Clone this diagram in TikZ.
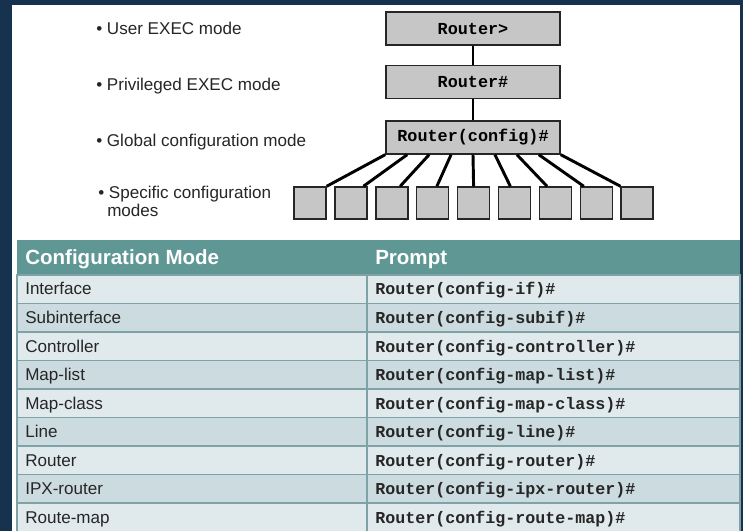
\documentclass[tikz,border=0pt]{standalone}
\usepackage{fontspec}
\setmainfont{Liberation Sans}
\setmonofont{Liberation Mono}
\usetikzlibrary{positioning}
\usetikzlibrary{calc}

\definecolor{framebg}{HTML}{17324F}
\definecolor{boxgray}{HTML}{C6C6C6}
\definecolor{headteal}{HTML}{5F9795}
\definecolor{rowlight}{HTML}{E0E9EC}
\definecolor{rowdark}{HTML}{CCDBE0}
\definecolor{gridline}{HTML}{7FA2A6}

\tikzset{
  modebox/.style={draw=black!85, line width=1.1pt, fill=boxgray, minimum width=130.5pt,
    minimum height=24.75pt, inner sep=0pt, font=\ttfamily\bfseries\fontsize{12.6}{14}\selectfont},
  subbox/.style={draw=black!85, line width=1.1pt, fill=boxgray, minimum size=24pt, inner sep=0pt},
  link/.style={line width=2.2pt},
  modetext/.style={anchor=base west, inner sep=0pt, text=black!85, font=\fontsize{12.8}{13.5}\selectfont},
  headtext/.style={anchor=base west, inner sep=0pt, text=white, font=\bfseries\fontsize{15.4}{17}\selectfont},
  celltext/.style={anchor=base west, inner sep=0pt, text=black!85, font=\fontsize{12.8}{15}\selectfont},
  prompttext/.style={anchor=base west, inner sep=0pt, text=black!85, font=\ttfamily\bfseries\fontsize{12.5}{15}\selectfont},
  cell/.style={draw=gridline, line width=1.1pt}
}

\begin{document}
\begin{tikzpicture}[x=0.75pt, y=-0.75pt]
  \useasboundingbox (0,0) rectangle (743,531);
  % frame
  \fill[framebg] (0,0) rectangle (743,531);
  \fill[white] (12,5) rectangle (740,531);

  % mode hierarchy
  \node[modebox] (user) at (473,28.5) {Router>};
  \node[modebox, below=14.25pt of user] (priv) {Router\#};
  \node[modebox, below=15.75pt of priv] (cfg) {Router(config)\#};
  \draw[link] (user) -- (priv);
  \draw[link] (priv) -- (cfg);

  \foreach \i in {0,...,8}
    {\node[subbox] (s\i) at ({310+40.9*\i},203) {};}
  \foreach \i in {0,...,8}
    {\draw[link] ($(cfg.south west)!\i/8!(cfg.south east)$) -- ($(s\i.north east)!\i/8!(s\i.north west)$);}

  % mode names
  \node[modetext] (tuser) at (96,35) {\textbullet\ User EXEC mode};
  \node[modetext] (tpriv) at (96,91) {\textbullet\ Privileged EXEC mode};
  \node[modetext] (tglob) at (96,147) {\textbullet\ Global configuration mode};
  \node[modetext] (tspec) at (98,199) {\textbullet\ Specific configuration};
  \node[modetext] (tspec2) at (107,217) {modes};

  % table
  \fill[headteal] (17,240) rectangle (740,275);
  \node[headtext] (hmode) at (25,265) {Configuration Mode};
  \node[headtext] (hprompt) at (375,265) {Prompt};

  \foreach \mode/\prompt [count=\r] in {Interface/config-if, Subinterface/config-subif,
      Controller/config-controller, Map-list/config-map-list, Map-class/config-map-class,
      Line/config-line, Router/config-router, IPX-router/config-ipx-router, Route-map/config-route-map}
    {\ifodd\r \def\rowfill{rowlight}\else \def\rowfill{rowdark}\fi
     \pgfmathsetmacro{\ytop}{275+28.5*(\r-1)}
     \draw[cell, fill=\rowfill] (17,\ytop) rectangle (367,\ytop+28.5);
     \draw[cell, fill=\rowfill] (367,\ytop) rectangle (740,\ytop+28.5);
     \node[celltext] (m\r) at (25,\ytop+20) {\mode};
     \node[prompttext] (p\r) at (375,\ytop+20) {Router(\prompt)\#};}
\end{tikzpicture}
\end{document}
